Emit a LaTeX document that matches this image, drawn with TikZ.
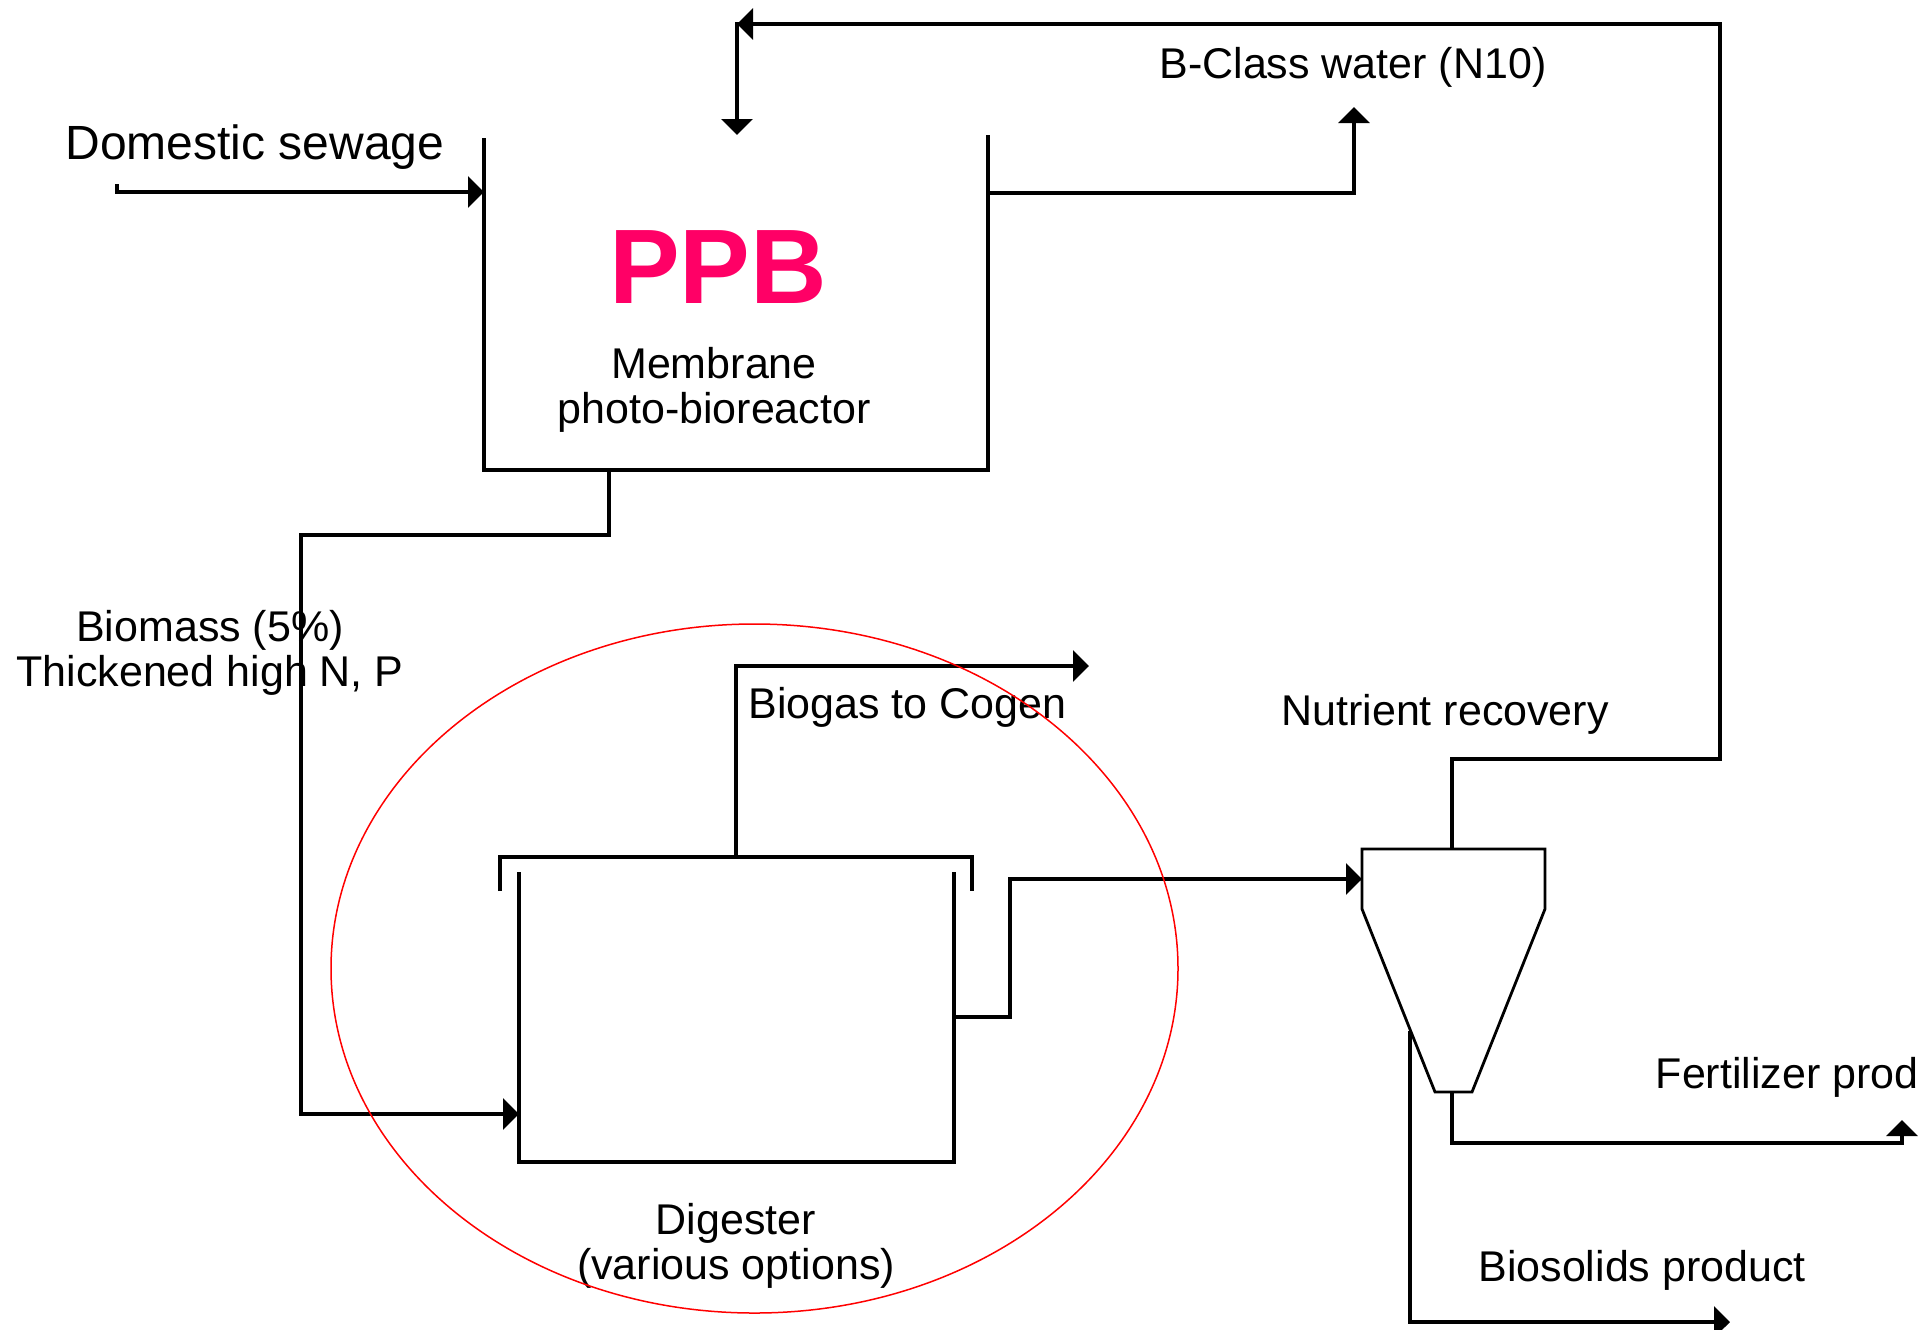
\documentclass[tikz,border=0pt]{standalone}
\usepackage{fontspec}
\setmainfont{Liberation Sans}
\usetikzlibrary{arrows.meta}
\definecolor{ppbpink}{HTML}{FF0066}
\begin{document}
\begin{tikzpicture}[x=0.5pt,y=-0.5pt,
  line/.style={line width=1.7pt, line join=miter},
  flow/.style={line, -{Triangle[length=8pt,width=15.5pt]}},
  lbl/.style={inner sep=0pt, font=\fontsize{21.5}{22.5}\selectfont},
]
\useasboundingbox (0,0) rectangle (1920,1329);
\clip (0,0) rectangle (1920,1329);

% ---- PPB reactor (open top)
\coordinate (ppbTL) at (484,138);
\coordinate (ppbBL) at (484,470);
\coordinate (ppbBR) at (988,470);
\coordinate (ppbTR) at (988,135);
\draw[line] (ppbTL) -- (ppbBL) -- (ppbBR) -- (ppbTR);

% ---- Digester
\coordinate (digTL) at (519,872);
\coordinate (digBL) at (519,1162);
\coordinate (digBR) at (954,1162);
\coordinate (digTR) at (954,872);
\draw[line] (digTL) -- (digBL) -- (digBR) -- (digTR);
\coordinate (lidL) at (500,891);
\coordinate (lidTL) at (500,857);
\coordinate (lidTR) at (972,857);
\coordinate (lidR) at (972,891);
\draw[line] (lidL) -- (lidTL) -- (lidTR) -- (lidR);

% ---- Cyclone (nutrient recovery)
\coordinate (cyA) at (1362,849);
\coordinate (cyB) at (1545,849);
\coordinate (cyC) at (1545,909);
\coordinate (cyD) at (1472,1092);
\coordinate (cyE) at (1435,1092);
\coordinate (cyF) at (1362,909);
\draw[line, line width=1.4pt] (cyA) -- (cyB) -- (cyC) -- (cyD) -- (cyE) -- (cyF) -- cycle;

% ---- connection points
\coordinate (sewStart) at (117,184);
\coordinate (sewIn) at (484,192);
\coordinate (bOut) at (988,193);
\coordinate (bTip) at (1354,107);
\coordinate (ppbOut) at (609,470);
\coordinate (bioBend) at (301,535);
\coordinate (digIn) at (519,1114);
\coordinate (gasOut) at (736,857);
\coordinate (gasTip) at (1089,666);
\coordinate (digOut) at (954,1017);
\coordinate (digRise) at (1010,879);
\coordinate (cyIn) at (1362,879);
\coordinate (cyTop) at (1452,849);
\coordinate (recA) at (1452,759);
\coordinate (recB) at (1720,759);
\coordinate (recC) at (1720,24);
\coordinate (recD) at (737,24);
\coordinate (recE) at (737,22);
\coordinate (recIn) at (737,135);
\coordinate (cyBot) at (1452,1092);
\coordinate (fertB) at (1902,1143);
\coordinate (fertTip) at (1902,1120);
\coordinate (solOut) at (1410,1031);
\coordinate (solTip) at (1730,1322);

% ---- connectors
\draw[flow] (sewStart) |- (sewIn);
\draw[flow] (bOut) -| (bTip);
\draw[flow] (ppbOut) |- (bioBend) |- (digIn);
\draw[flow] (gasOut) |- (gasTip);
\draw[flow] (digOut) -| (digRise) -- (cyIn);
\draw[flow] (cyTop) -- (recA) -- (recB) -- (recC) -- (recD);
\draw[flow] (recE) -- (recIn);
\draw[flow] (cyBot) |- (fertB) -- (fertTip);
\draw[flow] (solOut) |- (solTip);

% ---- labels
\node[lbl, font=\fontsize{24}{26}\selectfont, anchor=base] (sewage) at (255,159) {Domestic sewage};
\node[anchor=base, inner sep=0pt, text=ppbpink, font=\fontsize{53}{60}\selectfont\bfseries] (ppb) at (718,303) {PPB};
\node[lbl, anchor=base] (mem1) at (714,378) {Membrane};
\node[lbl, anchor=base] (mem2) at (714,423) {photo-bioreactor};
\node[lbl, anchor=base] (bclass) at (1353,78) {B-Class water (N10)};
\node[lbl, anchor=base] (bio1) at (210,641) {Biomass (5\%)};
\node[lbl, anchor=base] (bio2) at (210,686) {Thickened high N, P};
\node[lbl, anchor=base west] (biogas) at (748,718) {Biogas to Cogen};
\node[lbl, anchor=base] (nutr) at (1445,725) {Nutrient recovery};
\node[lbl, anchor=base] (dig1) at (736,1234) {Digester};
\node[lbl, anchor=base] (dig2) at (736,1279) {(various options)};
\node[lbl, anchor=base east] (fert) at (1919,1088) {Fertilizer prod};
\node[lbl, anchor=base west] (biosol) at (1478,1281) {Biosolids product};

% ---- highlight ellipse
\draw[red, line width=0.75pt] (754.5,968.5) ellipse [x radius=423.5, y radius=344.5];
\end{tikzpicture}
\end{document}
